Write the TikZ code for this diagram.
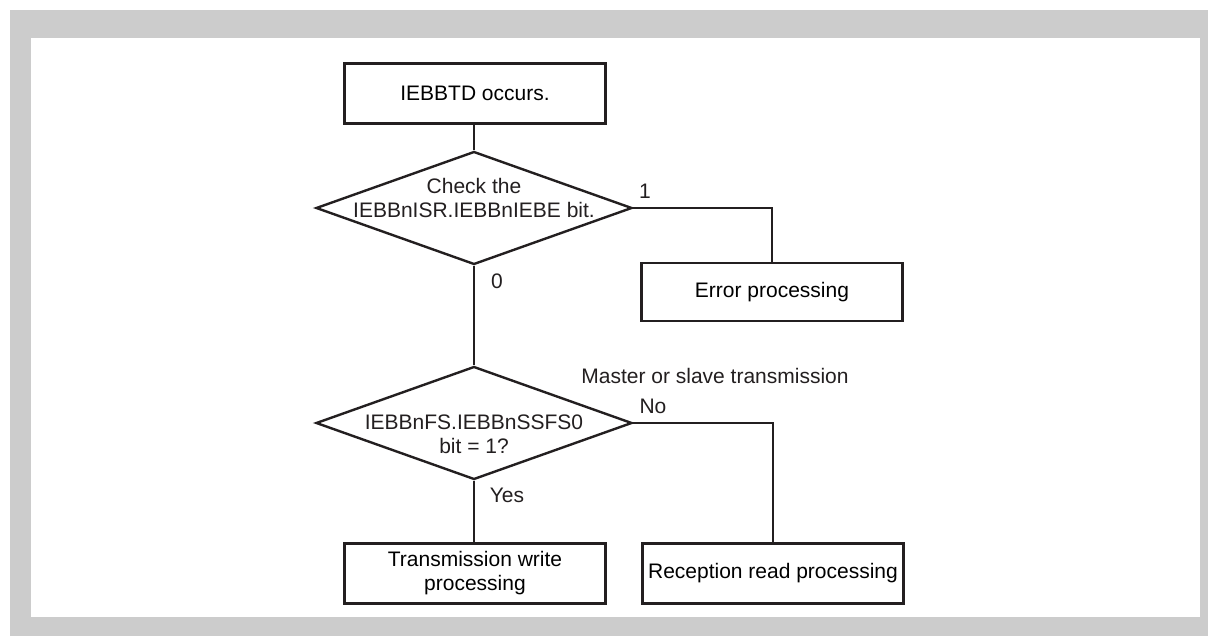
\documentclass[tikz,border=0pt]{standalone}
\usepackage{fontspec}
\setmainfont{Liberation Sans}
\usetikzlibrary{shapes.geometric}
\definecolor{framegray}{HTML}{CCCCCC}
\definecolor{ink}{HTML}{231F20}
\begin{document}
\begin{tikzpicture}[x=1pt,y=-1pt,
  font=\fontsize{21}{24}\selectfont,
  procbox/.style={draw=ink,line width=2.6pt,rectangle,minimum width=261,minimum height=60,inner sep=0,align=center},
  decision/.style={draw=ink,line width=2.4pt,diamond,minimum width=316,minimum height=113,inner sep=0},
  plain/.style={inner sep=0,align=center,text=ink},
  conn/.style={draw=ink,line width=1.2pt}]
\useasboundingbox (0,0) rectangle (1208,636);
\fill[framegray] (10,10) rectangle (1208,636);
\fill[white] (31,38) rectangle (1200,617);

\node[procbox] (top) at (475,93.5) {IEBBTD occurs.};
\node[decision] (d1) at (474,208) {};
\node[plain] (d1t) at (474,198) {Check the\\IEBBnISR.IEBBnIEBE bit.};
\node[procbox,minimum height=58] (err) at (772,292) {Error processing};
\node[decision] (d2) at (474,423) {};
\node[plain] (d2t) at (474,434.5) {IEBBnFS.IEBBnSSFS0\\bit = 1?};
\node[procbox] (trans) at (475,573.5) {Transmission write\\processing};
\node[procbox] (recv) at (773,573.5) {Reception read processing};

\node[plain] (l1) at (645,191.5) {1};
\node[plain] (l0) at (497,281) {0};
\node[plain] (lms) at (715,375.5) {Master or slave transmission};
\node[plain] (lno) at (653,406) {No};
\node[plain] (lyes) at (507,495.5) {Yes};

\draw[conn] (d1.north |- top.south) -- (d1.north);
\draw[conn] (d1.east) -| (err.north);
\draw[conn] (d1.south) -- (d2.north);
\draw[conn] (d2.east) -| (recv.north);
\draw[conn] (d2.south) -- (d2.south |- trans.north);
\end{tikzpicture}
\end{document}
